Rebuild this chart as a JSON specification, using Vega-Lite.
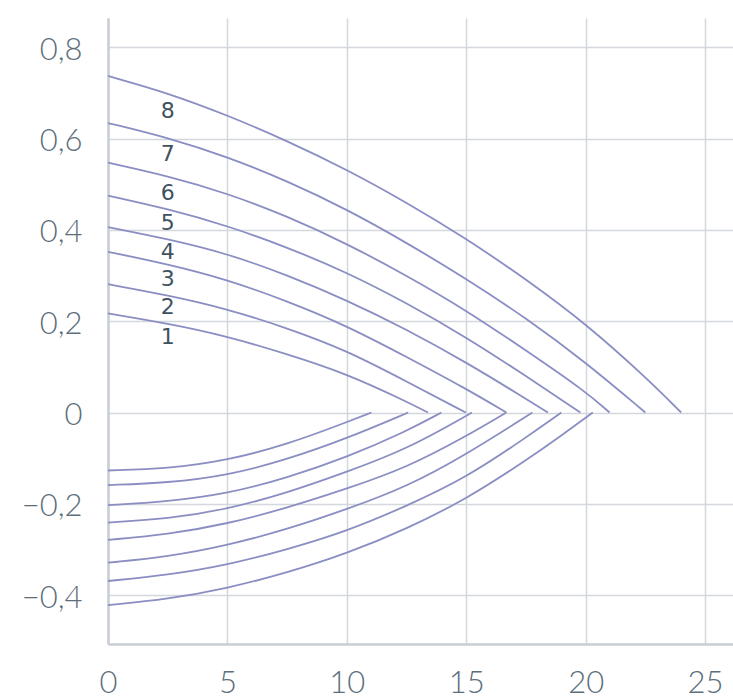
{
  "$schema": "https://vega.github.io/schema/vega-lite/v6.json",
  "autosize": "none",
  "width": 625,
  "height": 626,
  "padding": {"left": 108, "top": 18, "right": 0, "bottom": 56},
  "background": "white",
  "config": {
    "view": {"stroke": null},
    "axis": {
      "gridColor": "#d4d8dc",
      "gridWidth": 1.5,
      "domainColor": "#c9ced4",
      "domainWidth": 2.5,
      "ticks": false,
      "tickSize": 0,
      "labelFont": "Lato",
      "labelFontWeight": 300,
      "labelFontSize": 31,
      "labelColor": "#5c6e7a",
      "title": null
    }
  },
  "datasets": {
    "curves": [
      {"s": "U8", "x": 0, "y": 0.737}, {"s": "U8", "x": 2.5, "y": 0.700}, {"s": "U8", "x": 5, "y": 0.651}, {"s": "U8", "x": 7.5, "y": 0.595}, {"s": "U8", "x": 10, "y": 0.532}, {"s": "U8", "x": 12.5, "y": 0.460}, {"s": "U8", "x": 15, "y": 0.381}, {"s": "U8", "x": 17.5, "y": 0.292}, {"s": "U8", "x": 20, "y": 0.195}, {"s": "U8", "x": 22.5, "y": 0.078}, {"s": "U8", "x": 24.0, "y": 0},
      {"s": "U7", "x": 0, "y": 0.634}, {"s": "U7", "x": 2.5, "y": 0.602}, {"s": "U7", "x": 5, "y": 0.560}, {"s": "U7", "x": 7.5, "y": 0.507}, {"s": "U7", "x": 10, "y": 0.445}, {"s": "U7", "x": 12.5, "y": 0.372}, {"s": "U7", "x": 15, "y": 0.293}, {"s": "U7", "x": 17.5, "y": 0.207}, {"s": "U7", "x": 20, "y": 0.110}, {"s": "U7", "x": 22.5, "y": 0},
      {"s": "U6", "x": 0, "y": 0.547}, {"s": "U6", "x": 2.5, "y": 0.518}, {"s": "U6", "x": 5, "y": 0.480}, {"s": "U6", "x": 7.5, "y": 0.430}, {"s": "U6", "x": 10, "y": 0.370}, {"s": "U6", "x": 12.5, "y": 0.300}, {"s": "U6", "x": 15, "y": 0.224}, {"s": "U6", "x": 17.5, "y": 0.136}, {"s": "U6", "x": 20, "y": 0.046}, {"s": "U6", "x": 21.0, "y": 0},
      {"s": "U5", "x": 0, "y": 0.475}, {"s": "U5", "x": 2.5, "y": 0.446}, {"s": "U5", "x": 5, "y": 0.409}, {"s": "U5", "x": 7.5, "y": 0.362}, {"s": "U5", "x": 10, "y": 0.307}, {"s": "U5", "x": 12.5, "y": 0.240}, {"s": "U5", "x": 15, "y": 0.165}, {"s": "U5", "x": 17.5, "y": 0.080}, {"s": "U5", "x": 19.78, "y": 0},
      {"s": "U4", "x": 0, "y": 0.406}, {"s": "U4", "x": 2.5, "y": 0.380}, {"s": "U4", "x": 5, "y": 0.348}, {"s": "U4", "x": 7.5, "y": 0.301}, {"s": "U4", "x": 10, "y": 0.246}, {"s": "U4", "x": 12.5, "y": 0.182}, {"s": "U4", "x": 15, "y": 0.110}, {"s": "U4", "x": 17.5, "y": 0.030}, {"s": "U4", "x": 18.42, "y": 0},
      {"s": "U3", "x": 0, "y": 0.352}, {"s": "U3", "x": 2.5, "y": 0.325}, {"s": "U3", "x": 5, "y": 0.291}, {"s": "U3", "x": 7.5, "y": 0.244}, {"s": "U3", "x": 10, "y": 0.190}, {"s": "U3", "x": 12.5, "y": 0.122}, {"s": "U3", "x": 15, "y": 0.052}, {"s": "U3", "x": 16.68, "y": 0},
      {"s": "U2", "x": 0, "y": 0.281}, {"s": "U2", "x": 2.5, "y": 0.257}, {"s": "U2", "x": 5, "y": 0.227}, {"s": "U2", "x": 7.5, "y": 0.185}, {"s": "U2", "x": 10, "y": 0.136}, {"s": "U2", "x": 12.5, "y": 0.068}, {"s": "U2", "x": 14.98, "y": 0},
      {"s": "U1", "x": 0, "y": 0.217}, {"s": "U1", "x": 2.5, "y": 0.195}, {"s": "U1", "x": 5, "y": 0.167}, {"s": "U1", "x": 7.5, "y": 0.128}, {"s": "U1", "x": 10, "y": 0.085}, {"s": "U1", "x": 12.5, "y": 0.024}, {"s": "U1", "x": 13.4, "y": 0},
      {"s": "L1", "x": 0, "y": -0.127}, {"s": "L1", "x": 2.5, "y": -0.123}, {"s": "L1", "x": 5, "y": -0.105}, {"s": "L1", "x": 7.5, "y": -0.070}, {"s": "L1", "x": 10, "y": -0.021}, {"s": "L1", "x": 11.03, "y": 0},
      {"s": "L2", "x": 0, "y": -0.159}, {"s": "L2", "x": 2.5, "y": -0.154}, {"s": "L2", "x": 5, "y": -0.138}, {"s": "L2", "x": 7.5, "y": -0.103}, {"s": "L2", "x": 10, "y": -0.057}, {"s": "L2", "x": 12.57, "y": 0},
      {"s": "L3", "x": 0, "y": -0.203}, {"s": "L3", "x": 2.5, "y": -0.195}, {"s": "L3", "x": 5, "y": -0.178}, {"s": "L3", "x": 7.5, "y": -0.143}, {"s": "L3", "x": 10, "y": -0.098}, {"s": "L3", "x": 12.5, "y": -0.041}, {"s": "L3", "x": 13.96, "y": 0},
      {"s": "L4", "x": 0, "y": -0.241}, {"s": "L4", "x": 2.5, "y": -0.233}, {"s": "L4", "x": 5, "y": -0.212}, {"s": "L4", "x": 7.5, "y": -0.176}, {"s": "L4", "x": 10, "y": -0.130}, {"s": "L4", "x": 12.5, "y": -0.081}, {"s": "L4", "x": 15.24, "y": 0},
      {"s": "L5", "x": 0, "y": -0.279}, {"s": "L5", "x": 2.5, "y": -0.267}, {"s": "L5", "x": 5, "y": -0.244}, {"s": "L5", "x": 7.5, "y": -0.209}, {"s": "L5", "x": 10, "y": -0.167}, {"s": "L5", "x": 12.5, "y": -0.121}, {"s": "L5", "x": 15, "y": -0.052}, {"s": "L5", "x": 16.68, "y": 0},
      {"s": "L6", "x": 0, "y": -0.329}, {"s": "L6", "x": 2.5, "y": -0.316}, {"s": "L6", "x": 5, "y": -0.291}, {"s": "L6", "x": 7.5, "y": -0.256}, {"s": "L6", "x": 10, "y": -0.212}, {"s": "L6", "x": 12.5, "y": -0.163}, {"s": "L6", "x": 15, "y": -0.092}, {"s": "L6", "x": 17.77, "y": 0},
      {"s": "L7", "x": 0, "y": -0.369}, {"s": "L7", "x": 2.5, "y": -0.356}, {"s": "L7", "x": 5, "y": -0.334}, {"s": "L7", "x": 7.5, "y": -0.300}, {"s": "L7", "x": 10, "y": -0.260}, {"s": "L7", "x": 12.5, "y": -0.205}, {"s": "L7", "x": 15, "y": -0.143}, {"s": "L7", "x": 17.5, "y": -0.055}, {"s": "L7", "x": 18.98, "y": 0},
      {"s": "L8", "x": 0, "y": -0.422}, {"s": "L8", "x": 2.5, "y": -0.409}, {"s": "L8", "x": 5, "y": -0.385}, {"s": "L8", "x": 7.5, "y": -0.351}, {"s": "L8", "x": 10, "y": -0.309}, {"s": "L8", "x": 12.5, "y": -0.255}, {"s": "L8", "x": 15, "y": -0.190}, {"s": "L8", "x": 17.5, "y": -0.105}, {"s": "L8", "x": 19, "y": -0.050}, {"s": "L8", "x": 20.3, "y": 0}
    ],
    "labels": [
      {"t": "8", "x": 2.5, "y": 0.661},
      {"t": "7", "x": 2.5, "y": 0.566},
      {"t": "6", "x": 2.5, "y": 0.481},
      {"t": "5", "x": 2.5, "y": 0.414},
      {"t": "4", "x": 2.5, "y": 0.352},
      {"t": "3", "x": 2.5, "y": 0.293},
      {"t": "2", "x": 2.5, "y": 0.230},
      {"t": "1", "x": 2.5, "y": 0.165}
    ]
  },
  "layer": [
    {
      "data": {"name": "curves"},
      "mark": {"type": "line", "color": "#8a8ec2", "strokeWidth": 1.8, "interpolate": "basis"},
      "encoding": {
        "x": {
          "field": "x", "type": "quantitative",
          "scale": {"domain": [0, 26.17], "nice": false, "zero": false},
          "axis": {"values": [0, 5, 10, 15, 20, 25], "labelPadding": 24, "labelFlush": false, "grid": true}
        },
        "y": {
          "field": "y", "type": "quantitative",
          "scale": {"domain": [-0.507, 0.864], "nice": false, "zero": false},
          "axis": {
            "values": [-0.4, -0.2, 0, 0.2, 0.4, 0.6, 0.8],
            "labelPadding": 26,
            "labelOffset": 3,
            "labelFlush": false,
            "grid": true,
            "labelExpr": "datum.value == 0 ? '0' : replace(replace(format(datum.value, '.1f'), '.', ','), '-', '\u2212')"
          }
        },
        "detail": {"field": "s", "type": "nominal"}
      }
    },
    {
      "data": {"name": "labels"},
      "mark": {"type": "text", "font": "DejaVu Sans", "fontSize": 22, "color": "#3e5260", "align": "center", "baseline": "middle"},
      "encoding": {
        "x": {"field": "x", "type": "quantitative"},
        "y": {"field": "y", "type": "quantitative"},
        "text": {"field": "t", "type": "nominal"}
      }
    }
  ]
}
